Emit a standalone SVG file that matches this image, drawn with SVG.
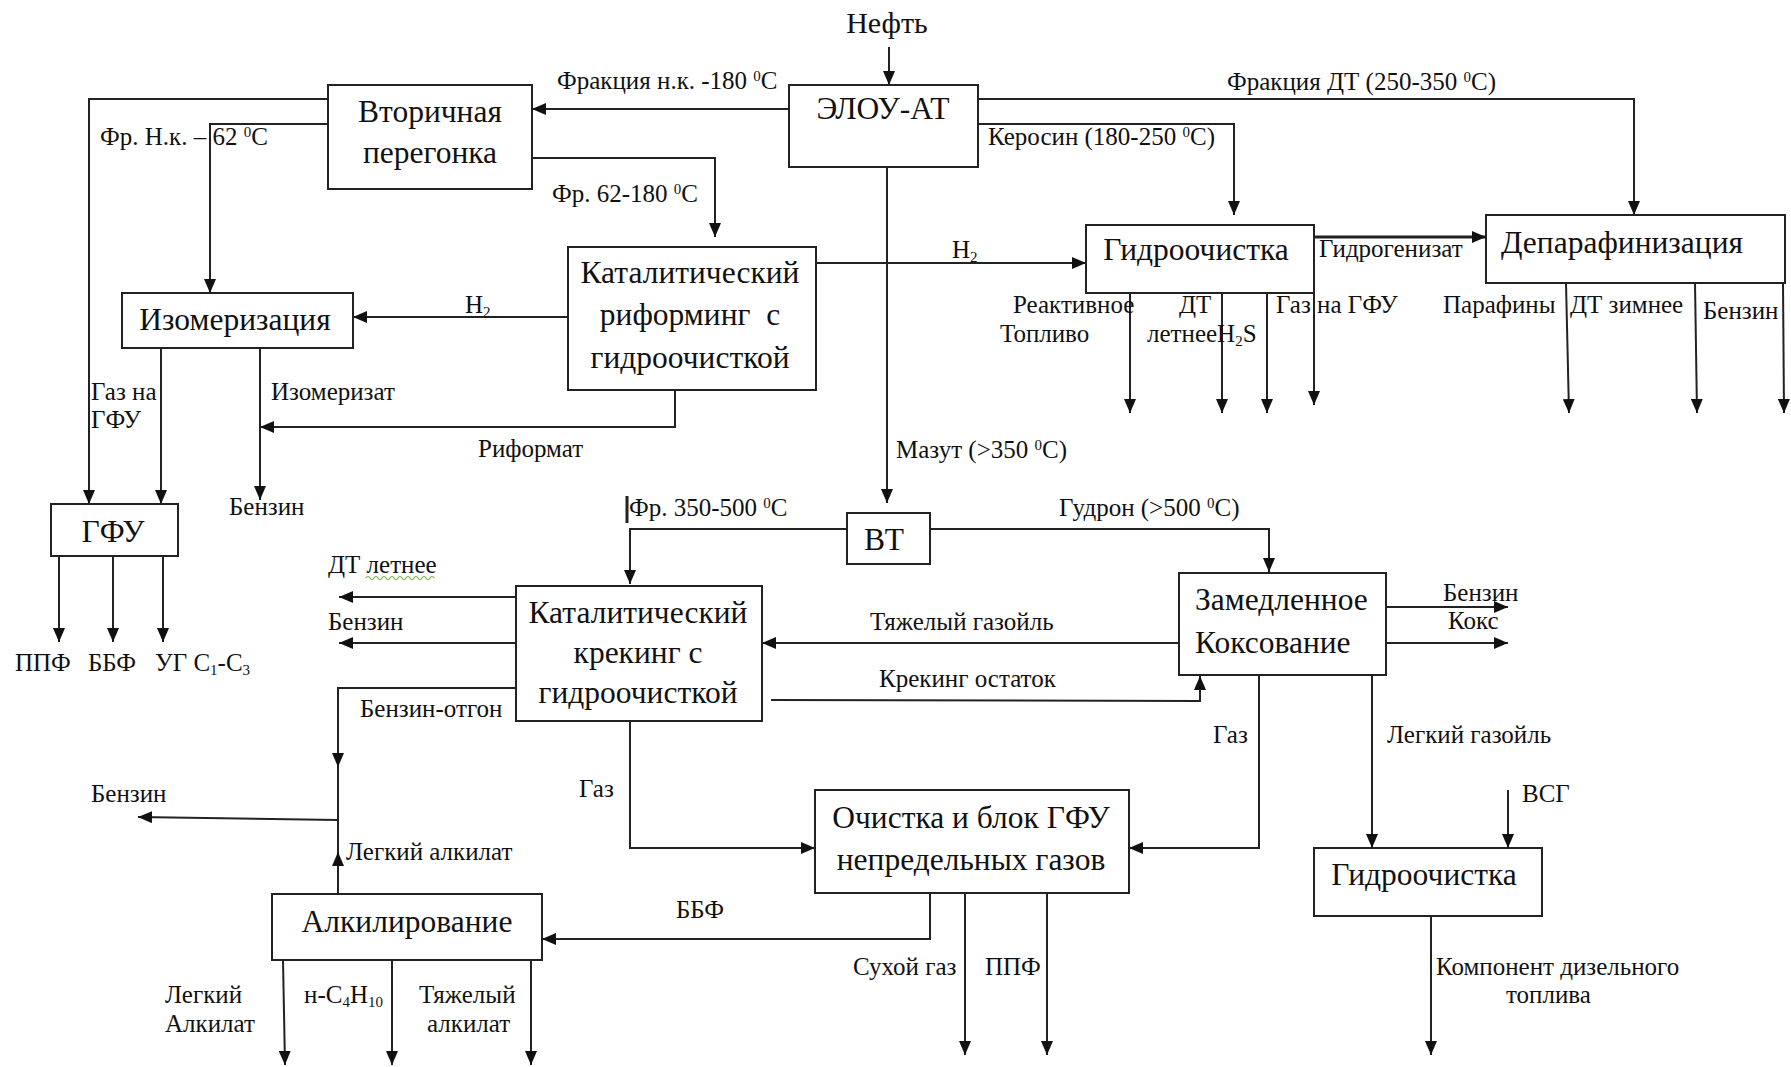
<svg xmlns="http://www.w3.org/2000/svg" width="1791" height="1067" viewBox="0 0 1791 1067">
<defs>
<marker id="ah" markerUnits="userSpaceOnUse" markerWidth="16" markerHeight="12" refX="14" refY="6" orient="auto">
<path d="M0,0 L14,6 L0,12 z" fill="#111"/>
</marker>
</defs>
<style>
.box{fill:#fff;stroke:#222;stroke-width:2}
.bt{font-family:"Liberation Serif","Times New Roman",serif;font-size:31.5px;fill:#111}
.lb{font-family:"Liberation Serif","Times New Roman",serif;font-size:25px;fill:#111}
.c{fill:none;stroke:#222;stroke-width:2}
.a{fill:none;stroke:#222;stroke-width:2;marker-end:url(#ah)}
.m{text-anchor:middle}
.sp{font-size:15px}
</style>
<rect width="1791" height="1067" fill="#fff"/>

<g id="connectors">
<path class="a" d="M889,47 V85"/>
<path class="a" d="M789,109 H532"/>
<path class="a" d="M328,99 H89 V504"/>
<path class="a" d="M328,124 H210 V293"/>
<path class="a" d="M532,158 H715 V237"/>
<path class="a" d="M568,317 H353"/>
<path class="a" d="M816,263 H1086"/>
<path class="a" d="M978,124 H1234 V215"/>
<path class="a" d="M978,99 H1634 V215"/>
<path class="a" d="M1314,237 H1486" style="stroke-width:3"/>
<path class="a" d="M1130,293 V413"/>
<path class="a" d="M1222,293 V413"/>
<path class="a" d="M1267,293 V413"/>
<path class="a" d="M1314,293 V405"/>
<path class="a" d="M1566,283 L1569,413"/>
<path class="a" d="M1695,283 L1697,413"/>
<path class="a" d="M1783,283 L1784,413"/>
<path class="a" d="M161,348 V504"/>
<path class="a" d="M260,348 V500"/>
<path class="a" d="M675,390 V427 H260"/>
<path class="a" d="M59,556 V642"/>
<path class="a" d="M113,556 V642"/>
<path class="a" d="M163,556 V642"/>
<path class="a" d="M887,167 V503"/>
<path class="a" d="M847,529 H630 V584"/>
<path class="a" d="M930,529 H1269 V572"/>
<path class="c" d="M627,496 V523" style="stroke-width:3"/>
<path class="a" d="M1179,643 H762"/>
<path class="a" d="M771,700 L1200,701 V676"/>
<path class="a" d="M516,597 H339"/>
<path class="a" d="M516,643 H339"/>
<path class="a" d="M516,688 H338 V767"/>
<path class="c" d="M338,767 V852"/>
<path class="a" d="M338,894 V852"/>
<path class="a" d="M338,820 L138,817"/>
<path class="a" d="M630,721 V848 H815"/>
<path class="a" d="M1259,675 V848 H1129"/>
<path class="a" d="M1372,675 V848"/>
<path class="a" d="M1508,790 V848"/>
<path class="a" d="M1431,916 V1055"/>
<path class="a" d="M930,893 V939 H542"/>
<path class="a" d="M965,893 V1055"/>
<path class="a" d="M1047,893 V1055"/>
<path class="a" d="M283,960 L285,1065"/>
<path class="a" d="M392,960 V1065"/>
<path class="a" d="M531,960 V1065"/>
<path class="a" d="M1386,607 H1508"/>
<path class="a" d="M1386,643 H1508"/>
</g>

<g id="n-vtorichnaya"><rect class="box" x="328" y="85" width="204" height="104"/>
<text class="bt m" x="430" y="122">Вторичная</text><text class="bt m" x="430" y="163">перегонка</text></g>
<g id="n-elou"><rect class="box" x="789" y="85" width="189" height="82"/>
<text class="bt m" x="883" y="119">ЭЛОУ-АТ</text></g>
<g id="n-riforming"><rect class="box" x="568" y="247" width="248" height="143"/>
<text class="bt m" x="690" y="283">Каталитический</text><text class="bt m" x="690" y="325" xml:space="preserve">риформинг  с</text><text class="bt m" x="690" y="368">гидроочисткой</text></g>
<g id="n-izomer"><rect class="box" x="122" y="293" width="231" height="55"/>
<text class="bt m" x="235" y="330">Изомеризация</text></g>
<g id="n-gidro1"><rect class="box" x="1086" y="225" width="228" height="68"/>
<text class="bt m" x="1196" y="260">Гидроочистка</text></g>
<g id="n-deparaf"><rect class="box" x="1486" y="215" width="299" height="68"/>
<text class="bt m" x="1622" y="253">Депарафинизация</text></g>
<g id="n-gfu"><rect class="box" x="51" y="504" width="127" height="52"/>
<text class="bt m" x="113" y="542">ГФУ</text></g>
<g id="n-vt"><rect class="box" x="847" y="513" width="83" height="51"/>
<text class="bt m" x="884" y="550">ВТ</text></g>
<g id="n-krek"><rect class="box" x="516" y="586" width="246" height="135"/>
<text class="bt m" x="638" y="623">Каталитический</text><text class="bt m" x="638" y="663">крекинг с</text><text class="bt m" x="638" y="703">гидроочисткой</text></g>
<g id="n-koks"><rect class="box" x="1179" y="573" width="207" height="102"/>
<text class="bt" x="1195" y="610">Замедленное</text><text class="bt" x="1195" y="653">Коксование</text></g>
<g id="n-ochistka"><rect class="box" x="815" y="790" width="314" height="103"/>
<text class="bt m" x="971" y="828">Очистка и блок ГФУ</text><text class="bt m" x="971" y="870">непредельных газов</text></g>
<g id="n-alkil"><rect class="box" x="272" y="894" width="270" height="66"/>
<text class="bt m" x="407" y="932">Алкилирование</text></g>
<g id="n-gidro2"><rect class="box" x="1314" y="848" width="228" height="68"/>
<text class="bt m" x="1424" y="885">Гидроочистка</text></g>

<g id="labels">
<text class="lb m" x="887" y="33" style="font-size:30px">Нефть</text>
<text class="lb" x="557" y="89">Фракция н.к. -180 <tspan class="sp" baseline-shift="super">0</tspan>C</text>
<text class="lb" x="100" y="145">Фр. Н.к. – 62 <tspan class="sp" baseline-shift="super">0</tspan>C</text>
<text class="lb" x="988" y="145">Керосин (180-250 <tspan class="sp" baseline-shift="super">0</tspan>C)</text>
<text class="lb" x="1227" y="90">Фракция ДТ (250-350 <tspan class="sp" baseline-shift="super">0</tspan>C)</text>
<text class="lb" x="552" y="202">Фр. 62-180 <tspan class="sp" baseline-shift="super">0</tspan>C</text>
<text class="lb" x="465" y="313">H<tspan class="sp" baseline-shift="-4">2</tspan></text>
<text class="lb" x="952" y="258">H<tspan class="sp" baseline-shift="-4">2</tspan></text>
<text class="lb" x="1319" y="257">Гидрогенизат</text>
<text class="lb" x="1013" y="313">Реактивное</text>
<text class="lb" x="1000" y="342">Топливо</text>
<text class="lb" x="1179" y="313">ДТ</text>
<text class="lb" x="1147" y="342">летнееH<tspan class="sp" baseline-shift="-4">2</tspan>S</text>
<text class="lb" x="1276" y="313">Газ на ГФУ</text>
<text class="lb" x="1443" y="313">Парафины</text>
<text class="lb" x="1570" y="313">ДТ зимнее</text>
<text class="lb" x="1703" y="319">Бензин</text>
<text class="lb" x="91" y="400">Газ на</text>
<text class="lb" x="91" y="428">ГФУ</text>
<text class="lb" x="271" y="400">Изомеризат</text>
<text class="lb" x="478" y="457">Риформат</text>
<text class="lb" x="229" y="515">Бензин</text>
<text class="lb" x="896" y="458">Мазут (&gt;350 <tspan class="sp" baseline-shift="super">0</tspan>C)</text>
<text class="lb" x="629" y="516">Фр. 350-500 <tspan class="sp" baseline-shift="super">0</tspan>C</text>
<text class="lb" x="1059" y="516">Гудрон (&gt;500 <tspan class="sp" baseline-shift="super">0</tspan>C)</text>
<text class="lb" x="15" y="671">ППФ</text>
<text class="lb" x="88" y="671">ББФ</text>
<text class="lb" x="155" y="671">УГ C<tspan class="sp" baseline-shift="-4">1</tspan>-C<tspan class="sp" baseline-shift="-4">3</tspan></text>
<text class="lb" x="328" y="573">ДТ летнее</text>
<path d="M366,578 q2,-3 4,0 t4,0 t4,0 t4,0 t4,0 t4,0 t4,0 t4,0 t4,0 t4,0 t4,0 t4,0 t4,0 t4,0 t4,0 t4,0 t4,0" fill="none" stroke="#6aaa3a" stroke-width="1.2"/>
<text class="lb" x="328" y="630">Бензин</text>
<text class="lb" x="870" y="630">Тяжелый газойль</text>
<text class="lb" x="879" y="687">Крекинг остаток</text>
<text class="lb" x="1443" y="601">Бензин</text>
<text class="lb" x="1448" y="629">Кокс</text>
<text class="lb" x="360" y="717">Бензин-отгон</text>
<text class="lb" x="579" y="797">Газ</text>
<text class="lb" x="1213" y="743">Газ</text>
<text class="lb" x="1387" y="743">Легкий газойль</text>
<text class="lb" x="91" y="802">Бензин</text>
<text class="lb" x="346" y="860">Легкий алкилат</text>
<text class="lb" x="1522" y="802">ВСГ</text>
<text class="lb" x="676" y="918">ББФ</text>
<text class="lb" x="853" y="975">Сухой газ</text>
<text class="lb" x="985" y="975">ППФ</text>
<text class="lb" x="1436" y="975">Компонент дизельного</text>
<text class="lb" x="1506" y="1003">топлива</text>
<text class="lb" x="165" y="1003">Легкий</text>
<text class="lb" x="165" y="1032">Алкилат</text>
<text class="lb" x="304" y="1003">н-C<tspan class="sp" baseline-shift="-4">4</tspan>H<tspan class="sp" baseline-shift="-4">10</tspan></text>
<text class="lb" x="419" y="1003">Тяжелый</text>
<text class="lb" x="427" y="1032">алкилат</text>
</g>
</svg>
